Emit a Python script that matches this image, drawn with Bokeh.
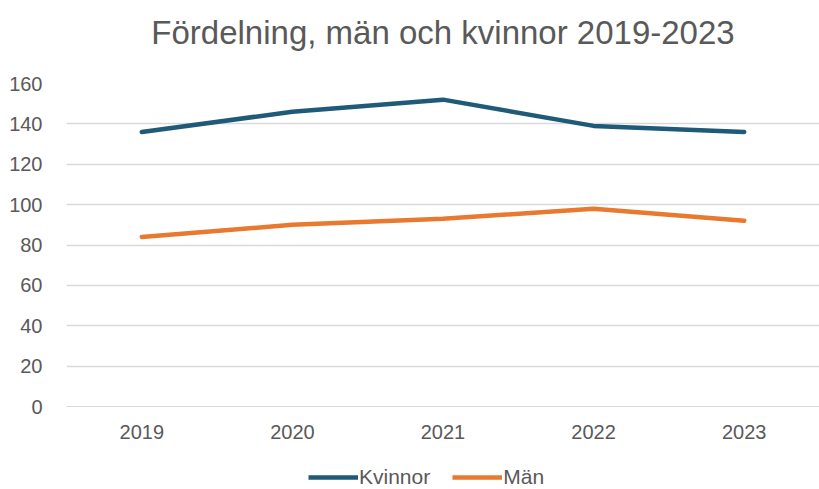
from bokeh.plotting import figure
from bokeh.models import FactorRange, Range1d, Legend, LegendItem, Title
from bokeh.layouts import column
from bokeh.embed import file_html
from bokeh.resources import INLINE

years = ["2019", "2020", "2021", "2022", "2023"]
kvinnor = [136, 146, 152, 139, 136]
man = [84, 90, 93, 98, 92]
y_ticks = [0, 20, 40, 60, 80, 100, 120, 140, 160]
title_text = "Fördelning, män och kvinnor 2019-2023"
series_names = ["Kvinnor", "Män"]
series_colors = ["#1f5a78", "#e8792f"]

FONT = "Liberation Sans"
GRAY = "#595959"

p = figure(frame_width=753, frame_height=323, x_range=FactorRange(*years, range_padding=0),
           y_range=Range1d(0, 160), output_backend="svg", toolbar_location=None,
           min_border_left=66, min_border_right=0, min_border_top=83, min_border_bottom=50)
p.title = None
p.outline_line_color = None
p.background_fill_color = "white"

spacer = Title(text=" ", text_font_size="10px", standoff=20)
p.add_layout(spacer, "above")
title = Title(text=title_text, align="center", text_font=FONT, text_font_size="33px",
              text_font_style="normal", text_color=GRAY, standoff=0)
p.add_layout(title, "above")

p.yaxis.ticker = y_ticks
p.yaxis.axis_line_color = None
p.yaxis.major_tick_line_color = None
p.yaxis.minor_tick_line_color = None
p.yaxis.major_label_text_font = FONT
p.yaxis.major_label_text_font_size = "20px"
p.yaxis.major_label_text_color = GRAY
p.yaxis.major_label_standoff = 18

p.xaxis.axis_line_color = "#d9d9d9"
p.xaxis.major_tick_line_color = None
p.xaxis.minor_tick_line_color = None
p.xaxis.major_label_text_font = FONT
p.xaxis.major_label_text_font_size = "20px"
p.xaxis.major_label_text_color = GRAY
p.xaxis.major_label_standoff = 12

p.xgrid.grid_line_color = None
p.ygrid.grid_line_color = "#d9d9d9"
p.ygrid.grid_line_width = 1.5

p.line(years, kvinnor, line_color=series_colors[0], line_width=4.5, line_cap="round", line_join="round")
p.line(years, man, line_color=series_colors[1], line_width=4.5, line_cap="round", line_join="round")

# Legend strip below the chart (its series lie outside its visible range; only the legend shows)
lg = figure(width=819, height=33, x_range=FactorRange(*years, range_padding=0), y_range=Range1d(1000, 1001),
            output_backend="svg", toolbar_location=None,
            x_axis_location=None, y_axis_location=None,
            min_border_left=0, min_border_right=0, min_border_top=0, min_border_bottom=0)
lg.outline_line_color = None
lg.xgrid.grid_line_color = None
lg.ygrid.grid_line_color = None
items = []
for name, col, vals in zip(series_names, series_colors, [kvinnor, man]):
    r = lg.line(years, vals, line_color=col, line_width=4.5)
    items.append(LegendItem(label=name, renderers=[r]))
legend = Legend(items=items, orientation="horizontal", location=(242, 0),
                label_text_font=FONT, label_text_font_size="21px", label_text_color=GRAY,
                border_line_color=None, background_fill_alpha=0, glyph_width=50, label_standoff=1,
                spacing=22, padding=0, margin=0)
lg.add_layout(legend, "center")

layout = column(p, lg, spacing=0)
open("out.html", "w").write(file_html(layout, INLINE))
